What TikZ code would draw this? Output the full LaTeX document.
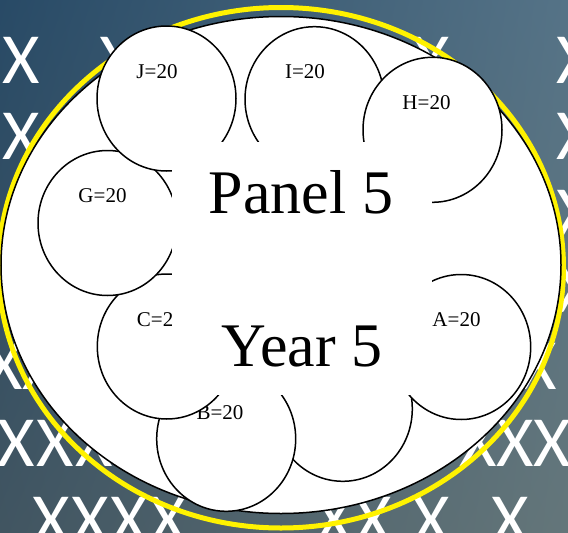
\documentclass[tikz,border=0pt]{standalone}
\usepackage{fontspec}
\setmainfont{Liberation Serif}
\newfontfamily\xfont{Carlito}
\usetikzlibrary{shapes.geometric,shadings}
\definecolor{bgUL}{RGB}{40,74,102}
\definecolor{bgUR}{RGB}{85,115,135}
\definecolor{bgLL}{RGB}{65,85,97}
\definecolor{bgLR}{RGB}{100,118,122}
\begin{document}
\begin{tikzpicture}[x=1pt,y=-1pt,
  circ/.style={draw=black, line width=1.5pt, fill=white, ellipse, minimum width=139pt, minimum height=145pt, inner sep=0pt},
  lab/.style={anchor=base, inner sep=0pt, font=\fontsize{21}{21}\selectfont},
  xmark/.style={anchor=base, inner sep=0pt, text=white, font=\xfont\fontsize{72}{72}\selectfont},
  big/.style={anchor=base, inner sep=0pt, font=\fontsize{62}{62}\selectfont}]
\useasboundingbox (0,0) rectangle (568,533);
\shade[upper left=bgUL, upper right=bgUR, lower left=bgLL, lower right=bgLR] (0,0) rectangle (568,533);
% background X marks
\foreach \px/\py [count=\i] in {21/83,118/83,431/83,575/83,
  21/159,575/159, 575/236, 575/312,
  4/389,41/389,538/389,
  16/466,55/466,94/466,478/466,515/466,552/466,
  51/543,90/543,129/543,168/543,334/543,373/543,431/543,510/543}
  \node[xmark] (x\i) at (\px,\py) {X};
% yellow ring (below) and main ellipse
\node[ellipse, draw=yellow, line width=5pt, minimum width=565pt, minimum height=520.5pt, inner sep=0pt] (ring) at (281,267.75) {};
\node[ellipse, draw=black, line width=1.5pt, fill=white, minimum width=560pt, minimum height=497pt, inner sep=0pt] (body) at (281,265) {};
% circles
\node[circ] (D) at (342.8,408.8) {};
\node[circ] (B) at (226.2,438.8) {};
\node[lab] (Bl) at (220,419) {B=20};
\node[circ] (C) at (166.8,346.5) {};
\node[lab] (Cl) at (160.4,326) {C=20};
\node[circ] (G) at (107.5,223) {};
\node[lab] (Gl) at (102.5,202) {G=20};
\node[circ] (J) at (166.5,98.5) {};
\node[lab] (Jl) at (157,78) {J=20};
\node[circ] (I) at (314.5,99.2) {};
\node[lab] (Il) at (305,78) {I=20};
\node[circ] (H) at (432.5,129.8) {};
\node[lab] (Hl) at (426.5,109) {H=20};
\node[circ] (A) at (461.2,347) {};
\node[lab] (Al) at (456.5,326) {A=20};
% central panel
\node[fill=white, minimum width=260pt, minimum height=253pt, inner sep=0pt] (panel) at (302,268.5) {};
\node[big] (t1) at (301,213) {Panel 5};
\node[big] (t2) at (302,366) {Year 5};
\end{tikzpicture}
\end{document}
